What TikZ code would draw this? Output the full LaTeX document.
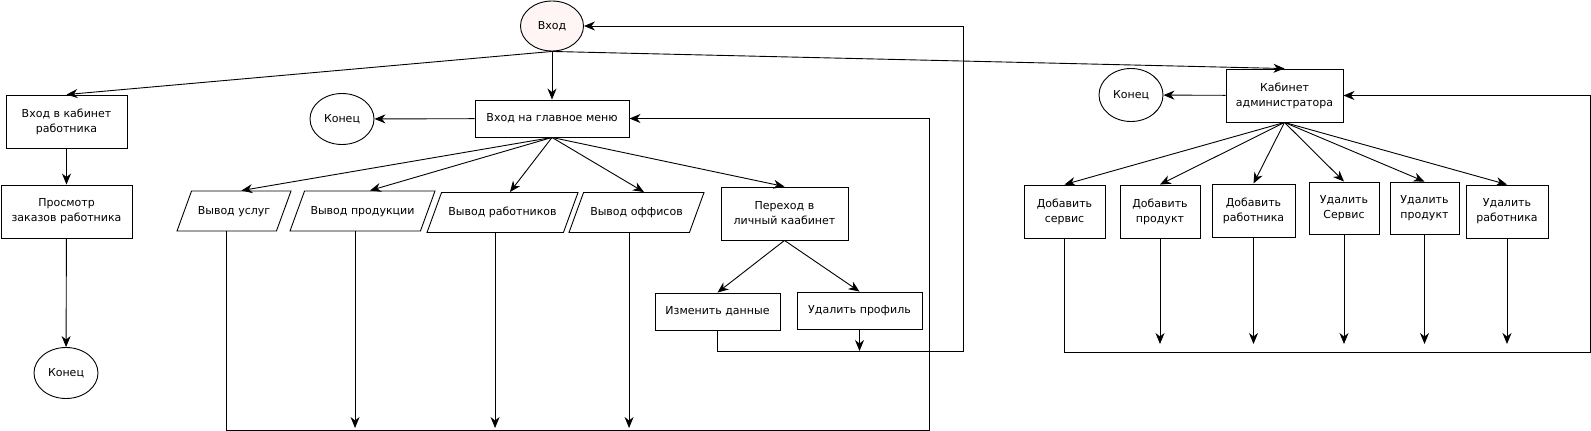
\documentclass[tikz,border=0pt]{standalone}
\usepackage{fontspec}
\setmainfont{DejaVu Sans}
\usetikzlibrary{shapes.geometric, arrows.meta}
\definecolor{vhodfill}{HTML}{FFF5F5}

\begin{document}
\begin{tikzpicture}[
		x=1pt, y=-1pt,
		line width=0.9pt,
		every node/.style={draw, inner sep=0pt, align=center, font=\fontsize{11}{15}\selectfont},
		block/.style={rectangle, minimum height=53pt},
		term/.style={ellipse, minimum width=64pt, minimum height=51pt},
		io/.style={trapezium, trapezium left angle=70, trapezium right angle=110, trapezium stretches body,
			text height=9pt, text depth=3pt, inner ysep=14pt, inner xsep=2pt},
		arr/.style={-{Stealth[length=11pt, width=9pt, inset=3.5pt]}}
	]
  \useasboundingbox (0,0) rectangle (1591,431);
  % left part
  \node (vhod) [term, minimum width=63pt, minimum height=50pt, fill=vhodfill] at (552, 26) {Вход};
  \node (worker) [block, minimum width=121pt] at (66.5, 121.5) {Вход в кабинет\\работника};
  \node (prosmotr) [block, minimum width=131pt] at (66.5, 211.5) {Просмотр\\заказов работника};
  \node (konec_w) [term] at (66, 373) {Конец};
  % main menu
  \node (menu) [block, minimum width=154pt, minimum height=37pt] at (552, 118.5) {Вход на главное меню};
  \node (konec_m) [term] at (342, 119) {Конец};
  \node (uslugi) [io, minimum width=114pt] at (234, 211) {Вывод услуг};
  \node (produkcii) [io, minimum width=145pt] at (362.5, 211) {Вывод продукции};
  \node (rabotniki) [io, minimum width=151pt] at (502.5, 212.5) {Вывод работников};
  \node (offisy) [io, minimum width=135pt] at (636.5, 212.5) {Вывод оффисов};
  \node (perehod) [block, minimum width=127pt] at (784.5, 213.5) {Переход в\\личный каабинет};
  \node (izmenit) [block, minimum width=125pt, minimum height=37pt] at (717.5, 311.5) {Изменить данные};
  \node (udalit_p) [block, minimum width=125pt, minimum height=37pt] at (859.5, 310.5) {Удалить профиль};
  % admin
  \node (admin) [block, minimum width=117pt] at (1284.5, 95.5) {Кабинет\\администратора};
  \node (konec_a) [term, minimum height=53pt] at (1131, 95) {Конец};
  \node (dob_s) [block, minimum width=81pt] at (1064.5, 211.5) {Добавить\\сервис};
  \node (dob_p) [block, minimum width=80pt] at (1160, 211.5) {Добавить\\продукт};
  \node (dob_r) [block, minimum width=83pt] at (1253.5, 210.5) {Добавить\\работника};
  \node (ud_s) [block, minimum width=70pt, minimum height=52pt] at (1344, 208) {Удалить\\Сервис};
  \node (ud_p) [block, minimum width=69pt, minimum height=52pt] at (1424.5, 208) {Удалить\\продукт};
  \node (ud_r) [block, minimum width=82pt] at (1507, 211.5) {Удалить\\работника};
  % loop corners and free ends
  \coordinate (loop_p) at (963, 351);
  \coordinate (loop_m) at (929, 430);
  \coordinate (loop_a) at (1590, 352);
  \coordinate (stop_m) at (0, 428);
  \coordinate (stop_a) at (0, 344);

  \draw (vhod.south) edge [arr] (worker.north);
  \draw (vhod.south) edge [arr] (menu.north);
  \draw (vhod.south) edge [arr] (admin.north);
  \draw (worker) edge [arr] (prosmotr);
  \draw (prosmotr) edge [arr] (konec_w);
  \draw (menu) edge [arr] (konec_m);
  \draw (menu.south) edge [arr] (uslugi.top side);
  \draw (menu.south) edge [arr] (produkcii.top side);
  \draw (menu.south) edge [arr] (rabotniki.top side);
  \draw (menu.south) edge [arr] (offisy.top side);
  \draw (menu.south) edge [arr] (perehod.north);
  \draw (perehod.south) edge [arr] (izmenit.north);
  \draw (perehod.south) edge [arr] (udalit_p.north);
  \draw [arr] (izmenit.south) |- (loop_p) |- (vhod.east);
  \draw (udalit_p.south) edge [arr] (udalit_p.south |- loop_p);
  \draw [arr] (uslugi.bottom side) |- (loop_m) |- (menu.east);
  \foreach \k in {produkcii, rabotniki, offisy}
    \draw (\k.bottom side) edge [arr] (\k.bottom side |- stop_m);
  \draw (admin) edge [arr] (konec_a);
  \foreach \k in {dob_s, dob_p, dob_r, ud_s, ud_p, ud_r}
    \draw (admin.south) edge [arr] (\k.north);
  \draw [arr] (dob_s.south) |- (loop_a) |- (admin.east);
  \foreach \k in {dob_p, dob_r, ud_s, ud_p, ud_r}
    \draw (\k.south) edge [arr] (\k.south |- stop_a);
\end{tikzpicture}
\end{document}
